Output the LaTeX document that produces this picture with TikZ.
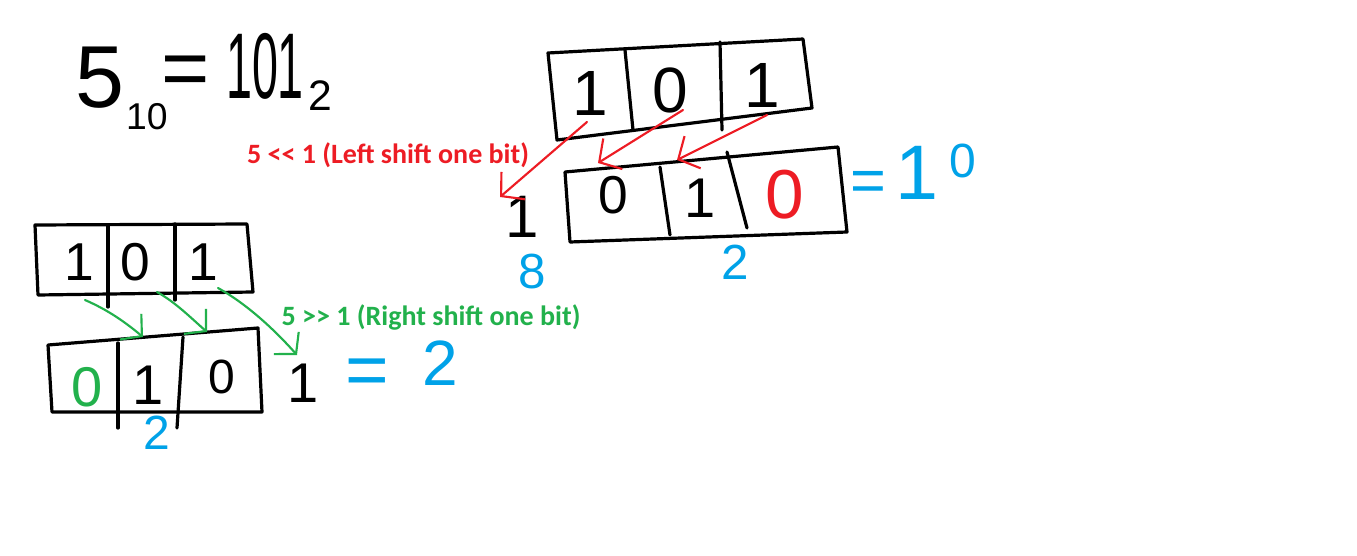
\documentclass[tikz,border=0pt]{standalone}
\usepackage{fontspec}
\setmainfont{Liberation Sans}
\newfontfamily\lblfont{Carlito}
\usetikzlibrary{arrows.meta}
\definecolor{pred}{RGB}{237,28,36}
\definecolor{pgreen}{RGB}{34,177,76}
\definecolor{pblue}{RGB}{0,162,232}
\begin{document}
\begin{tikzpicture}[x=0.75pt,y=-0.75pt,
  dig/.style={inner sep=0pt, font=\fontsize{#1}{#1}\selectfont},
  box/.style={line width=2.4pt, line join=round, line cap=round},
  lbl/.style={inner sep=0pt, font=\lblfont\bfseries\fontsize{21}{21}\selectfont},
  redarr/.style={pred, line width=1.6pt, line cap=round, -{Straight Barb[length=12pt,width=27pt,line width=1.6pt]}},
  grnarr/.style={pgreen, line width=1.6pt, line cap=round, -{Straight Barb[length=11pt,width=25pt,line width=1.6pt]}}]
\useasboundingbox[fill=white] (0,0) rectangle (1357,556);

% ---- formula top left
\node[dig=66] (five) at (100,78) {5};
\node[dig=28] (ten) at (147,117) {10};
\node[dig=62] (eqa) at (186,76) {=};
\node[dig=70] (bin) at (265,66) {\scalebox{0.5}[1]{101}};
\node[dig=32] (two) at (320,96) {2};

% ---- top right box (101)
\draw[box] (548,53) -- (803,39) -- (812,108) -- (557,140) -- cycle;
\draw[box] (625,50) -- (633,130);
\draw[box] (720,42) -- (722,130);
\node[dig=48] (t1) at (590,93) {1};
\node[dig=48] (t2) at (670,90) {0};
\node[dig=48] (t3) at (762,85) {1};

% ---- bottom right box (010)
\draw[box] (565,172) -- (838,147) -- (847,232) -- (570,242) -- cycle;
\draw[box] (660,167) -- (670,235);
\draw[box] (727,152) -- (747,228);
\node[dig=40] (b1) at (613,195) {0};
\node[dig=42] (b2) at (700,198) {1};
\node[dig=52,text=pred] (b3) at (785,195) {0};
\node[dig=45] (bo) at (522,217) {1};
\node[dig=37,text=pblue] (eight) at (532,272) {8};
\node[dig=37,text=pblue] (twob) at (735,262) {2};
\node[dig=46,text=pblue] (eqb) at (868,186) {=};
\node[dig=58,text=pblue] (tena) at (917,173) {1};
\node[dig=36,text=pblue] (tenb) at (963,161) {0};

% ---- red arrows and label
\coordinate (ra1s) at (587,122); \coordinate (ra1e) at (500,197);
\coordinate (ra2s) at (683,110); \coordinate (ra2e) at (598,163);
\coordinate (ra3s) at (767,115); \coordinate (ra3e) at (677,160);
\draw[redarr] (ra1s) -- (ra1e);
\draw[redarr] (ra2s) -- (ra2e);
\draw[redarr] (ra3s) -- (ra3e);
\node[lbl,text=pred] (lsh) at (388,155) {5 << 1 (Left shift one bit)};

% ---- left top box (101)
\draw[box] (35,225) -- (247,224) -- (253,292) -- (38,295) -- cycle;
\draw[box] (108,225) -- (108,307);
\draw[box] (175,224) -- (175,300);
\node[dig=40] (l1) at (79,262) {1};
\node[dig=40] (l2) at (135,262) {0};
\node[dig=40] (l3) at (203,262) {1};

% ---- left bottom box (010)
\draw[box] (48,345) -- (258,328) -- (262,412) -- (52,412) -- cycle;
\draw[box] (118,343) -- (118,428);
\draw[box] (183,337) -- (177,428);
\node[dig=42,text=pgreen] (m1) at (87,387) {0};
\node[dig=42] (m2) at (148,385) {1};
\node[dig=36] (m3) at (222,377) {0};
\node[dig=42] (mo) at (303,383) {1};
\node[dig=56,text=pblue] (eqc) at (367,377) {=};
\node[dig=48,text=pblue] (twoc) at (440,363) {2};
\node[dig=36,text=pblue] (twod) at (157,433) {2};

% ---- green arrows and label
\coordinate (ga1s) at (85,300); \coordinate (ga1e) at (143,337);
\coordinate (ga2s) at (157,292); \coordinate (ga2e) at (207,332);
\coordinate (ga3s) at (218,288); \coordinate (ga3e) at (297,355);
\draw[grnarr] (ga1s) .. controls (108,310) and (125,322) .. (ga1e);
\draw[grnarr] (ga2s) .. controls (175,302) and (190,317) .. (ga2e);
\draw[grnarr] (ga3s) .. controls (245,303) and (272,327) .. (ga3e);
\node[lbl,text=pgreen] (rsh) at (431,317) {5 >> 1 (Right shift one bit)};
\end{tikzpicture}
\end{document}
